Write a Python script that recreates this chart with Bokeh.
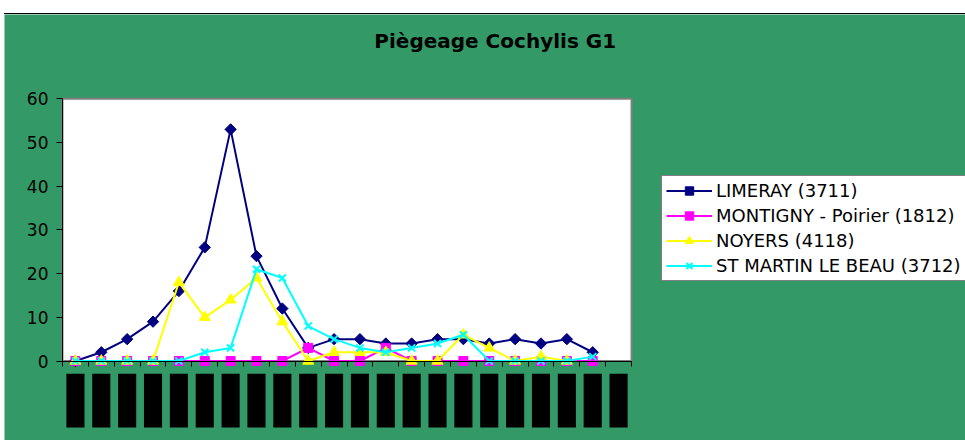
import math
from bokeh.plotting import figure
from bokeh.models import (Range1d, FixedTicker, CustomJSTickFormatter, Legend,
                          LegendItem, Label)
from bokeh.embed import file_html
from bokeh.resources import INLINE

# ---------------- data ----------------
title_text = "Piègeage Cochylis G1"
n_releves = 22                      # 22 relevés (date labels unreadable in the source)
releves = list(range(n_releves))
NAN = float("nan")
limeray = [0, 2, 5, 9, 16, 26, 53, 24, 12, 3, 5, 5, 4, 4, 5, 5, 4, 5, 4, 5, 2, NAN]
montigny = [0, 0, 0, 0, 0, 0, 0, 0, 0, 3, 0, 0, 3, 0, 0, 0, 0, 0, 0, 0, 0, NAN]
noyers = [0, 0, 0, 0, 18, 10, 14, 19, 9, 0, 2, 2, 2, 0, 0, 6, 3, 0, 1, 0, NAN, NAN]
st_martin = [0, 0, 0, 0, 0, 2, 3, 21, 19, 8, 5, 3, 2, 3, 4, 6, 0, 0, 0, 0, 1, NAN]
series_names = ["LIMERAY (3711)", "MONTIGNY - Poirier (1812)",
                "NOYERS (4118)", "ST MARTIN LE BEAU (3712)"]
y_ticks = [0, 10, 20, 30, 40, 50, 60]

# ---------------- layout ----------------
GREEN = "#339966"
CANVAS_W, CANVAS_H = 961, 427
PAGE_X0, PAGE_Y0 = 4, 14       # canvas origin on the page
AREA_LEFT = 62                  # page x of the plot-area left edge
px_per_cat = 25.864
px_per_unit = 4.37
y_top_px = 98.3 - PAGE_Y0       # where 60 sits (from frame top)
y_max = max(y_ticks)
y_end = y_max + y_top_px / px_per_unit
y_start = y_max - (CANVAS_H - y_top_px) / px_per_unit
x_lo = -0.5
x_hi = n_releves - 0.5
x_start = x_lo - (AREA_LEFT - PAGE_X0) / px_per_cat
x_end = x_start + CANVAS_W / px_per_cat


def page_to_data(px, py):
    return (x_start + (px - PAGE_X0) / px_per_cat,
            y_end - (py - PAGE_Y0) / px_per_unit)


p = figure(width=CANVAS_W, height=CANVAS_H, output_backend="svg",
           toolbar_location=None,
           x_range=Range1d(x_start, x_end), y_range=Range1d(y_start, y_end),
           min_border_left=0, min_border_right=0, min_border_top=0,
           min_border_bottom=0, background_fill_color=GREEN,
           border_fill_color=GREEN, outline_line_color=None)
p.styles = {"position": "relative", "left": "4px", "top": "13px",
            "border-top": "1px solid #000000"}
p.grid.visible = False

# white plot area
p.quad(left=[x_lo], right=[x_hi], bottom=[0], top=[y_max],
       fill_color="white", line_color="#808080", line_width=2)

# black blocks standing for the (illegible) rotated date labels
_, blk_top = page_to_data(0, 373.3)
_, blk_bot = page_to_data(0, 427)
p.quad(left=[c - 0.35 for c in releves], right=[c + 0.35 for c in releves],
       top=blk_top, bottom=blk_bot, fill_color="black", line_color=None)

# axes (drawn inside the frame at the plot-area edges)
p.yaxis.fixed_location = x_lo
p.yaxis.ticker = FixedTicker(ticks=y_ticks)
p.yaxis.bounds = (0, y_max)
p.yaxis.major_tick_out = 6
p.yaxis.major_tick_in = 0
p.yaxis.minor_tick_line_color = None
p.yaxis.major_label_standoff = 8
p.yaxis.major_label_text_font = "DejaVu Sans"
p.yaxis.major_label_text_font_size = "17px"
p.yaxis.major_label_text_color = "black"
p.yaxis.axis_line_color = "black"

p.xaxis.fixed_location = 0
p.xaxis.bounds = (x_lo, x_hi)
p.xaxis.ticker = FixedTicker(ticks=[c - 0.5 for c in releves] + [x_hi])
p.xaxis.formatter = CustomJSTickFormatter(code="return ''")
p.xaxis.major_tick_out = 5
p.xaxis.major_tick_in = 0
p.xaxis.minor_tick_line_color = None
p.xaxis.axis_line_color = "black"

# series
styles = [
    ("#000080", "square", 8, math.pi / 4, limeray),
    ("#FF00FF", "square", 9, 0, montigny),
    ("#FFFF00", "triangle", 11, 0, noyers),
    ("#00FFFF", "x", 10, 0, st_martin),
]
items = []
for name, (col, mk, sz, ang, vals) in zip(series_names, styles):
    lr = p.line(releves, vals, line_color=col, line_width=2)
    if mk == "x":
        sr = p.scatter(releves, vals, marker=mk, size=sz, line_color=col,
                       line_width=2)
    else:
        sr = p.scatter(releves, vals, marker=mk, size=sz, angle=ang,
                       fill_color=col, line_color=col)
    items.append(LegendItem(label=name, renderers=[lr, sr]))

legend = Legend(items=items, location=(661 - PAGE_X0, PAGE_Y0 + CANVAS_H - 281),
                background_fill_color="white", background_fill_alpha=1,
                border_line_color="black", border_line_width=1,
                label_text_font="DejaVu Sans", label_text_font_size="18px",
                label_text_color="black", glyph_width=46, glyph_height=21,
                label_height=21, label_standoff=4, spacing=4, padding=4,
                margin=0)
p.add_layout(legend)

# title
tx, ty = page_to_data(494.7, 40)
p.add_layout(Label(x=tx, y=ty, text=title_text, text_align="center",
                   text_baseline="middle", text_font="DejaVu Sans",
                   text_font_style="bold", text_font_size="20px",
                   text_color="black"))

open("out.html", "w").write(file_html(p, INLINE))
